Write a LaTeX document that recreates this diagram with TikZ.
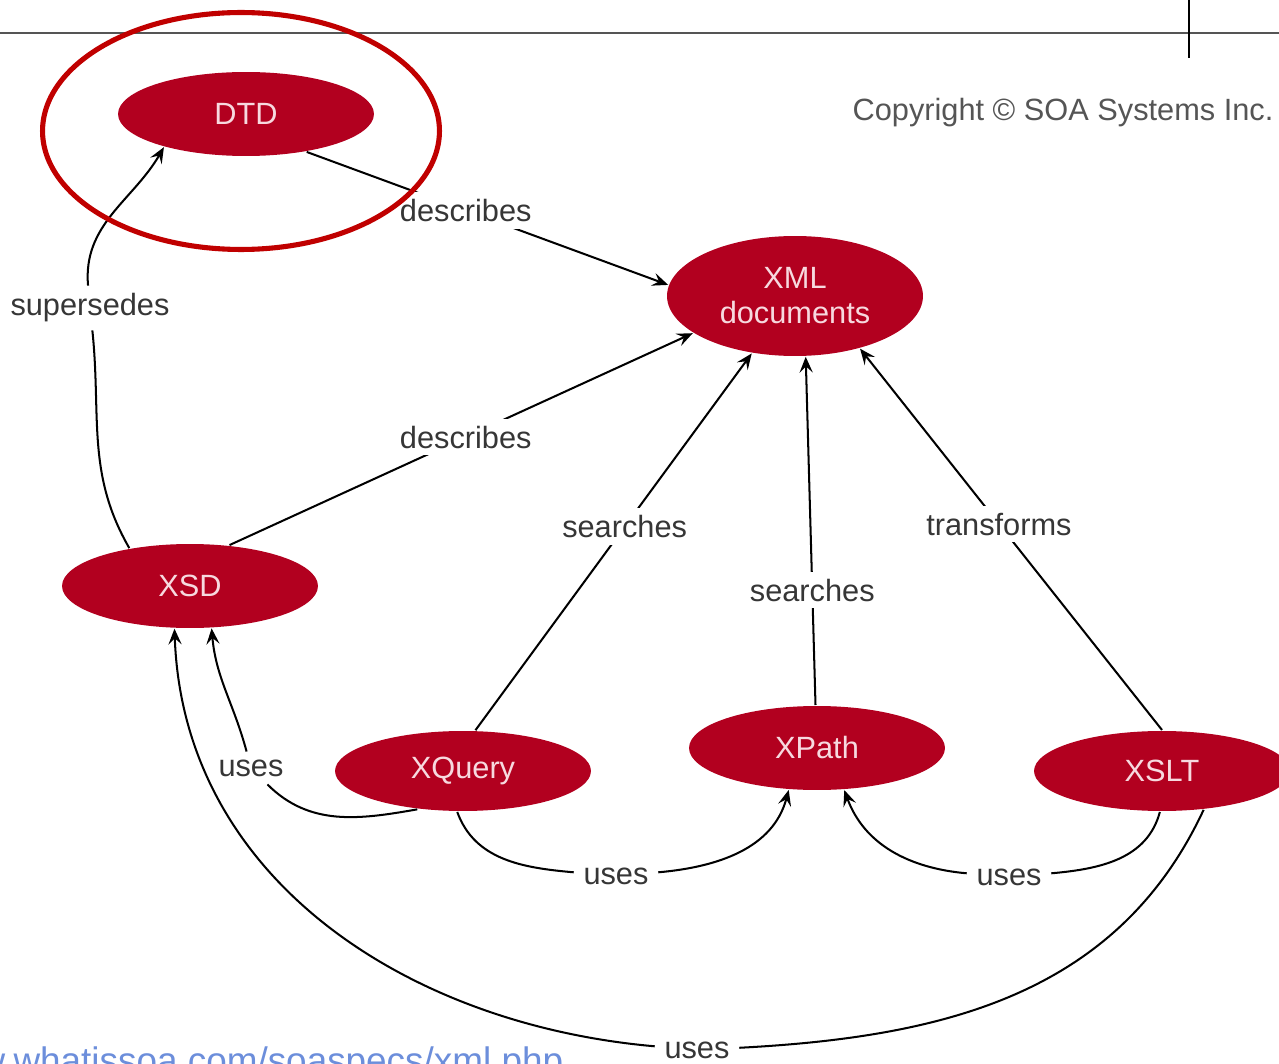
\documentclass[tikz,border=0pt]{standalone}
\usepackage{fontspec}
\setmainfont{Liberation Sans}
\usetikzlibrary{shapes.geometric,arrows.meta}

\definecolor{specred}{HTML}{B2001F}
\definecolor{ringred}{HTML}{C00000}
\definecolor{spectext}{HTML}{F7D9DF}
\definecolor{lbltext}{HTML}{363636}
\definecolor{copygray}{HTML}{555555}
\definecolor{rulegray}{HTML}{555555}
\definecolor{linkblue}{HTML}{6C8EDB}

\begin{document}
\begin{tikzpicture}[x=0.02cm,y=0.02cm,->,>={Stealth[length=9pt,width=7.5pt,inset=3.5pt]},line width=1.15pt,
  every node/.style={font=\fontsize{17.5}{20}\selectfont},
  spec/.style={ellipse,fill=specred,text=spectext,minimum width=5.12cm,minimum height=1.68cm,inner sep=0pt,align=center},
  lbl/.style={fill=white,text=lbltext,inner xsep=5pt,inner ysep=4pt}]
\useasboundingbox (0,0) rectangle (1279,-1064);
% header rules
\draw[-,rulegray,line width=1.2pt] (0,-33) -- (1279,-33);
\draw[-,line width=0.8pt] (1189,0) -- (1189,-58);
\node[text=copygray] (copy) at (1063,-113) {Copyright © SOA Systems Inc.};
% specs
\node[spec] (dtd) at (246,-114) {DTD};
\node[spec, minimum height=2.4cm] (xml) at (795,-296) {XML\\documents};
\node[spec] (xsd) at (190,-586) {XSD};
\node[spec, minimum height=1.6cm] (xquery) at (463,-771) {XQuery};
\node[spec] (xpath) at (817,-748) {XPath};
\node[spec, minimum height=1.6cm] (xslt) at (1162,-771) {XSLT};
% labels on curves
\node[lbl] (sup) at (90,-308) {supersedes};
\node[lbl] (use1) at (251,-768) {uses};
\node[lbl] (use2) at (616,-876) {uses};
\node[lbl] (use3) at (1009,-877) {uses};
\node[lbl] (use4) at (697,-1050) {uses};
% straight edges
\draw (dtd.-32) -- (xml.175) node[lbl,pos=0.44] (desc1) {describes};
\draw (xsd.46) -- (xml.200) node[lbl,pos=0.51] (desc2) {describes};
\draw (xquery.73) -- (xml.233) node[lbl,pos=0.54] (srch1) {searches};
\draw (xpath.92) -- (xml.280) node[lbl,pos=0.33] (srch2) {searches};
\draw (xslt.90) -- (xml.321) node[lbl,pos=0.54] (trans) {transforms};
% curved edges
\draw (xsd.148) to[out=120,in=-84] (sup) to[out=95,in=240] (dtd.202);
\draw (xquery.220) to[out=190,in=-45] (use1) to[out=105,in=-85] (xsd.297);
\draw (xquery.262) to[out=-70,in=175] (use2) to[out=5,in=-105] (xpath.236);
\draw (xslt.267) to[out=-105,in=5] (use3) to[out=175,in=-70] (xpath.303);
\draw (xslt.-43) to[out=-115,in=3] (use4) to[out=175,in=-88] (xsd.250);
% highlight ring
\node[-,draw=ringred,line width=2.9pt,ellipse,inner sep=0pt,minimum width=7.94cm,minimum height=4.74cm] (ring) at (241,-131) {};
\node[anchor=base east,text=linkblue,font=\fontsize{21}{24}\selectfont] (link) at (570,-1073) {www.whatissoa.com/soaspecs/xml.php};
\end{tikzpicture}
\end{document}
